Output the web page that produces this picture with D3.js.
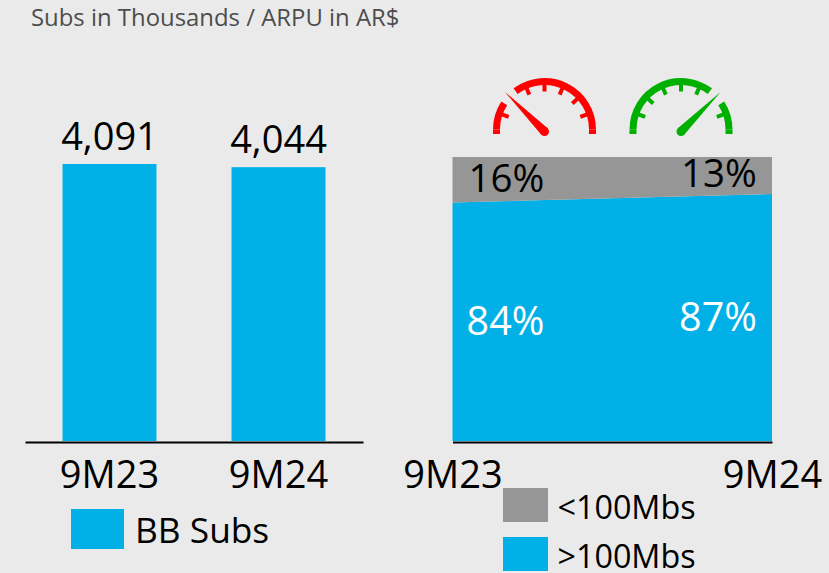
<!DOCTYPE html>
<html>
<head>
<meta charset="utf-8">
<script src="https://cdn.jsdelivr.net/npm/d3@7"></script>
<style>
html, body { margin: 0; padding: 0; background: #eaeaea; }
svg { display: block; }
text { font-family: "Open Sans", sans-serif; }
</style>
</head>
<body>
<script>
var periods = ["9M23", "9M24"];
var subs = [4091, 4044];
var subsLabels = ["4,091", "4,044"];
var over100 = [84, 87];
var under100 = [16, 13];
var speedLabels = ["<100Mbs", ">100Mbs"];
var gaugeTicks = [-70.5, -47, -23.5, 0, 23.5, 47, 70.5];

var blue = "#00b0e6";
var grey = "#969696";

var svg = d3.select("body").append("svg")
    .attr("width", 829)
    .attr("height", 573);

svg.append("text")
    .attr("x", 31)
    .attr("y", 26)
    .attr("font-size", 23.9)
    .attr("fill", "#4d4d4d")
    .text("Subs in Thousands / ARPU in AR$");

// left bars
var x = d3.scaleBand().domain(periods).range([25, 363]).paddingInner(0.444).paddingOuter(0.222);
var y = d3.scaleLinear().domain([0, 4091]).range([441, 164]);

svg.selectAll(".bar")
    .data(subs)
    .enter().append("rect")
    .attr("class", "bar")
    .attr("x", function (d, i) { return x(periods[i]); })
    .attr("y", function (d) { return y(d); })
    .attr("width", x.bandwidth())
    .attr("height", function (d) { return y(0) - y(d); })
    .attr("fill", blue);

svg.selectAll(".barLabel")
    .data(subs)
    .enter().append("text")
    .attr("class", "barLabel")
    .attr("x", function (d, i) { return x(periods[i]) + x.bandwidth() / 2; })
    .attr("y", function (d) { return y(d) - 14; })
    .attr("text-anchor", "middle")
    .attr("font-size", 38)
    .text(function (d, i) { return subsLabels[i]; });

function styleAxis(g) {
    g.select(".domain").attr("stroke", "#000").attr("stroke-width", 2);
    g.selectAll("text").attr("font-size", 38).attr("font-family", "Open Sans").attr("fill", "#000");
}

svg.append("g")
    .attr("transform", "translate(0,442)")
    .call(d3.axisBottom(x).tickSize(0).tickPadding(19).tickSizeOuter(0))
    .call(styleAxis);

// right stacked area
var x2 = d3.scalePoint().domain(periods).range([452.5, 772]);
var y2 = d3.scaleLinear().domain([0, 100]).range([441, 157]);

var rows = periods.map(function (p, i) {
    return { period: p, over: over100[i], under: under100[i] };
});
var layers = d3.stack().keys(["over", "under"])(rows);
var area = d3.area()
    .x(function (d) { return x2(d.data.period); })
    .y0(function (d) { return y2(d[0]); })
    .y1(function (d) { return y2(d[1]); });

svg.selectAll(".layer")
    .data(layers)
    .enter().append("path")
    .attr("class", "layer")
    .attr("d", area)
    .attr("fill", function (d) { return d.key === "over" ? blue : grey; });

svg.append("g")
    .attr("transform", "translate(0,442)")
    .call(d3.axisBottom(x2).tickSize(0).tickPadding(19).tickSizeOuter(0))
    .call(styleAxis);

var inset = [54, -53];
svg.selectAll(".underLabel")
    .data(under100)
    .enter().append("text")
    .attr("class", "underLabel")
    .attr("x", function (d, i) { return x2(periods[i]) + inset[i]; })
    .attr("y", function (d) { return y2(100 - d / 2) + 12; })
    .attr("text-anchor", "middle")
    .attr("font-size", 38.5)
    .text(function (d) { return d + "%"; });

svg.selectAll(".overLabel")
    .data(over100)
    .enter().append("text")
    .attr("class", "overLabel")
    .attr("x", function (d, i) { return x2(periods[i]) + inset[i] - 1; })
    .attr("y", function (d) { return y2(d / 2) + 13.5; })
    .attr("text-anchor", "middle")
    .attr("font-size", 39.5)
    .attr("fill", "#fff")
    .text(function (d) { return d + "%"; });

// gauges
function drawGauge(cx, colour, gapStart, gapEnd, needleAngle, skipTick) {
    var g = svg.append("g").attr("transform", "translate(" + cx + ",129.5)");
    var rad = Math.PI / 180;
    var ring = d3.arc().innerRadius(44.5).outerRadius(51.5);
    [[-90, gapStart], [gapEnd, 90]].forEach(function (s) {
        g.append("path")
            .attr("d", ring({ startAngle: s[0] * rad, endAngle: s[1] * rad }))
            .attr("fill", colour);
    });
    // short straight feet under the ring
    [-51.5, 44.5].forEach(function (fx) {
        g.append("rect").attr("x", fx).attr("y", 0).attr("width", 7).attr("height", 4.5).attr("fill", colour);
    });
    g.selectAll(".tick")
        .data(gaugeTicks.filter(function (t) { return t !== skipTick; }))
        .enter().append("rect")
        .attr("x", -2)
        .attr("y", -46)
        .attr("width", 4)
        .attr("height", 8)
        .attr("fill", colour)
        .attr("transform", function (t) { return "rotate(" + t + ")"; });
    var n = g.append("g").attr("transform", "translate(0,2) rotate(" + needleAngle + ")");
    n.append("path").attr("d", "M-4.5,0 L0,-56 L4.5,0 Z").attr("fill", colour);
    n.append("circle").attr("r", 4.5).attr("fill", colour);
}
drawGauge(544.5, "#ff0000", -57, -37, -45, -47);
drawGauge(681, "#00b000", 37, 57, 45, 47);

// legends
svg.append("rect").attr("x", 71).attr("y", 509).attr("width", 53).attr("height", 40).attr("fill", blue);
svg.append("text").attr("x", 135).attr("y", 543).attr("font-size", 35.3).text("BB Subs");

var legendY = d3.scalePoint().domain(speedLabels).range([488, 537]);
var legendColours = [grey, blue];
svg.selectAll(".legendBox")
    .data(speedLabels)
    .enter().append("rect")
    .attr("class", "legendBox")
    .attr("x", 503)
    .attr("y", function (d) { return legendY(d); })
    .attr("width", 45)
    .attr("height", 34)
    .attr("fill", function (d, i) { return legendColours[i]; });
svg.selectAll(".legendText")
    .data(speedLabels)
    .enter().append("text")
    .attr("class", "legendText")
    .attr("x", 557.5)
    .attr("y", function (d) { return legendY(d) + 31; })
    .attr("font-size", 32.3)
    .text(function (d) { return d; });
</script>
</body>
</html>
